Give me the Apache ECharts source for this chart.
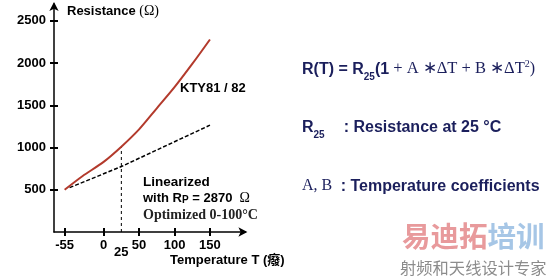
<!DOCTYPE html>
<html>
<head>
<meta charset="utf-8">
<script src="https://cdn.jsdelivr.net/npm/echarts@6/dist/echarts.min.js"></script>
<style>html,body{margin:0;padding:0;background:#fff}#c{width:553px;height:280px}</style>
</head>
<body>
<div id="c"></div>
<script>
// ---- data ----
const tempC = [-55, -30, 0, 25, 50, 75, 100, 125, 150];
const resistanceKTY = [500, 660, 830, 1010, 1215, 1465, 1715, 1990, 2280];
const linTemp = [-48, 25, 150];
const linResistance = [525, 775, 1265];
const refTemp = [25, 25];
const refResistance = [0, 1010];
const xTickValues = [-55, 0, 50, 100, 150];
const yTickValues = [500, 1000, 1500, 2000, 2500];

const zip = (a, b) => a.map((v, i) => [v, b[i]]);
const SANS = '"Liberation Sans", Arial, "Noto Sans CJK SC", sans-serif';
const SERIF = '"Liberation Serif", "Times New Roman", serif';
const NAVY = '#1b1f5c';

const chart = echarts.init(document.getElementById('c'), null, {renderer: 'canvas'});

const axisCommon = {
  type: 'value',
  splitLine: {show: false},
};
const plain = v => String(v);

chart.setOption({
  animation: false,
  backgroundColor: '#fff',
  grid: {left: 54, right: 307.6, top: 4, bottom: 48, containLabel: false},
  xAxis: [
    Object.assign({}, axisCommon, {
      min: -70, max: 200,
      axisLine: {show: true, onZero: false, symbol: ['none', 'arrow'], symbolSize: [7, 9], symbolOffset: [0, 2],
        lineStyle: {color: '#000', width: 1.5}},
      axisTick: {show: true, customValues: xTickValues, length: 4, lineStyle: {color: '#000', width: 2}},
      axisLabel: {show: true, customValues: xTickValues, formatter: plain, margin: 7, color: '#000',
        fontFamily: SANS, fontWeight: 'bold', fontSize: 13}
    }),
    Object.assign({}, axisCommon, {
      min: -70, max: 200, position: 'bottom',
      axisLine: {show: false, onZero: false},
      axisTick: {show: true, inside: true, customValues: xTickValues, length: 4, lineStyle: {color: '#000', width: 2}},
      axisLabel: {show: false}
    })
  ],
  yAxis: [
    Object.assign({}, axisCommon, {
      min: 0, max: 2700,
      axisLine: {show: true, onZero: false, symbol: ['none', 'arrow'], symbolSize: [7, 9], symbolOffset: [0, 2],
        lineStyle: {color: '#000', width: 1.5}},
      axisTick: {show: true, customValues: yTickValues, length: 4, lineStyle: {color: '#000', width: 2}},
      axisLabel: {show: true, customValues: yTickValues, formatter: plain, margin: 8, color: '#000',
        fontFamily: SANS, fontWeight: 'bold', fontSize: 13}
    }),
    Object.assign({}, axisCommon, {
      min: 0, max: 2700, position: 'left',
      axisLine: {show: false, onZero: false},
      axisTick: {show: true, inside: true, customValues: yTickValues, length: 4, lineStyle: {color: '#000', width: 2}},
      axisLabel: {show: false}
    })
  ],
  series: [
    {
      name: 'KTY81 / 82', type: 'line', data: zip(tempC, resistanceKTY),
      smooth: 0.3, showSymbol: false, symbol: 'none',
      lineStyle: {color: '#b33a2c', width: 2}, z: 3
    },
    {
      name: 'Linearized', type: 'line', data: zip(linTemp, linResistance),
      showSymbol: false, symbol: 'none',
      lineStyle: {color: '#000', width: 1.5, type: [4, 2]}, z: 2
    },
    {
      name: 'T25', type: 'line', data: zip(refTemp, refResistance),
      showSymbol: false, symbol: 'none',
      lineStyle: {color: '#000', width: 1, type: [3, 3]}, z: 1
    }
  ]
});

// ---- text layout helpers ----
const mctx = document.createElement('canvas').getContext('2d');
function fontStr(p) { return (p.w || 'normal') + ' ' + p.f + 'px ' + (p.fam || SANS); }
function textEl(x, y, text, p) {
  const font = fontStr(p);
  return {type: 'text', x: x, y: y, silent: true,
    style: {text: text, font: font, fill: p.c || '#000',
      align: p.align || 'left', textAlign: p.align || 'left',
      verticalAlign: 'middle', textVerticalAlign: 'middle'}};
}
// a run of fragments on one baseline; each part: {t, f, w, fam, c, dy}
function run(x, baseline, parts) {
  const els = [];
  let cx = x;
  parts.forEach(p => {
    mctx.font = fontStr(p);
    const wdt = mctx.measureText(p.t).width;
    els.push(textEl(cx, baseline - 0.36 * p.f + (p.dy || 0), p.t, p));
    cx += wdt + (p.gap || 0);
  });
  return els;
}

const g = [];
// axis titles
g.push(...run(67, 16, [
  {t: 'Resistance ', f: 13, w: 'bold'},
  {t: '(Ω)', f: 14, fam: SERIF}
]));
g.push(...run(170, 265, [
  {t: 'Temperature T (癈)', f: 13, w: 'bold'}
]));
// curve label
g.push(...run(180, 93, [
  {t: 'KTY81 / 82', f: 13, w: 'bold'}
]));
// linearized note
g.push(...run(143, 187, [{t: 'Linearized', f: 13.5, w: 'bold'}]));
g.push(...run(143, 203, [
  {t: 'with R', f: 13, w: 'bold'},
  {t: 'P', f: 10, w: 'bold', dy: 1},
  {t: ' = 2870  ', f: 13, w: 'bold'},
  {t: 'Ω', f: 14, fam: SERIF}
]));
g.push(...run(143, 220, [{t: 'Optimized 0-100°C', f: 14, w: 'bold', fam: SERIF, c: '#222'}]));

// the "25" under the reference line, placed through the axis scale
const p25 = chart.convertToPixel({xAxisIndex: 0, yAxisIndex: 0}, [refTemp[0], 0]);
g.push(textEl(p25[0], p25[1] + 20, '25', {f: 13, w: 'bold', align: 'center'}));

// formulas on the right
g.push(...run(302, 75, [
  {t: 'R(T) = R', f: 16, w: 'bold', c: NAVY},
  {t: '25', f: 10, w: 'bold', c: NAVY, dy: 6},
  {t: '(1', f: 16, w: 'bold', c: NAVY},
  {t: ' + A ∗ΔT + B ∗ΔT', f: 16.5, fam: SERIF, c: NAVY},
  {t: '2', f: 10, fam: SERIF, c: NAVY, dy: -7},
  {t: ')', f: 16, fam: SERIF, c: NAVY}
]));
g.push(...run(302, 133, [
  {t: 'R', f: 16, w: 'bold', c: NAVY},
  {t: '25', f: 10, w: 'bold', c: NAVY, dy: 6, gap: 19},
  {t: ': Resistance at 25 °C', f: 16, w: 'bold', c: NAVY}
]));
g.push(...run(302, 192, [
  {t: 'A, B', f: 16, fam: SERIF, c: NAVY, gap: 4},
  {t: ' : Temperature coefficients', f: 16, w: 'bold', c: NAVY}
]));

// watermark
const CJK = '"Noto Sans CJK SC", sans-serif';
g.push(...run(402, 246, [
  {t: '易迪拓', f: 28.5, w: 'bold', fam: CJK, c: '#e89a9c'},
  {t: '培训', f: 28.5, w: 'bold', fam: CJK, c: '#a6c6e6'}
]));
g.push(...run(400, 274, [
  {t: '射频和天线设计专家', f: 16.3, fam: CJK, c: '#8c8c8c'}
]));

chart.setOption({graphic: g});
</script>
</body>
</html>
